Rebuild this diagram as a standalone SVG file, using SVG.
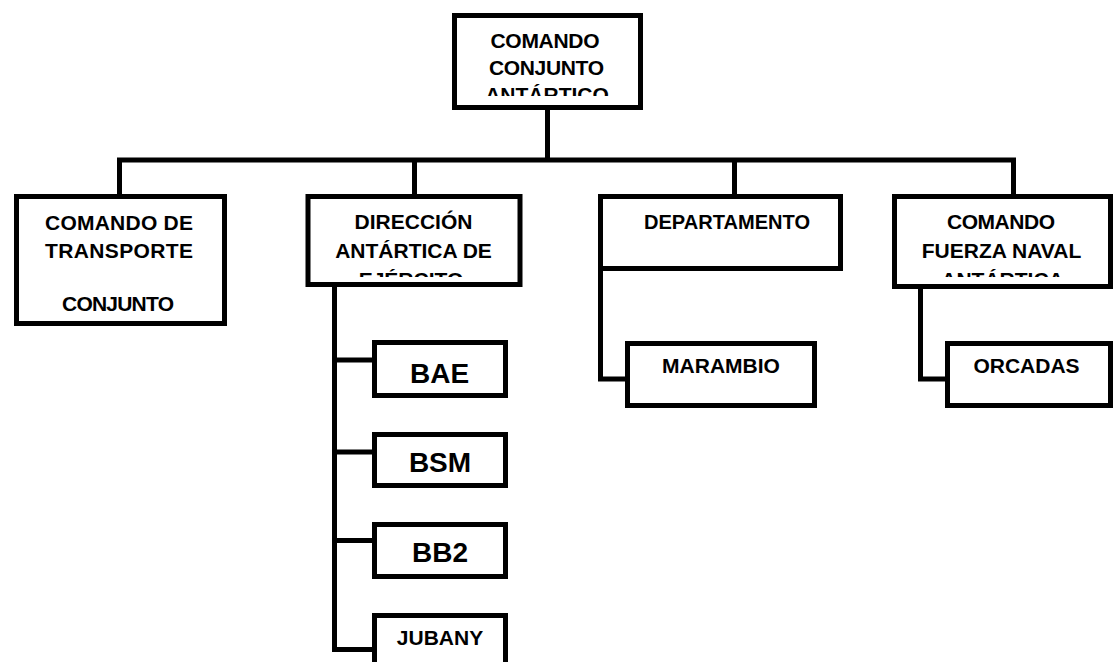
<svg xmlns="http://www.w3.org/2000/svg" width="1114" height="662" viewBox="0 0 1114 662">
<style>
.box{fill:#fff;stroke:#000;stroke-width:5}
.t{font-family:"Liberation Sans",Arial,sans-serif;font-weight:bold;font-size:21px;fill:#000;text-anchor:middle}
.big{font-size:28px}
.c{fill:none;stroke:#000;stroke-width:5;stroke-linecap:square}
</style>
<defs>
<clipPath id="clipTop"><rect x="455" y="16" width="185" height="80"/></clipPath>
<clipPath id="clipDir"><rect x="309" y="197" width="210" height="80"/></clipPath>
<clipPath id="clipNav"><rect x="895" y="197" width="214" height="80"/></clipPath>
</defs>
<rect width="1114" height="662" fill="#fff"/>
<g id="connectors">
<path class="c" d="M547.5 110 V160 M119.5 160 H1013.5 M119.5 160 V194 M414.5 160 V194 M734.5 160 V194 M1013.5 160 V194"/>
<path class="c" d="M334.5 287 V649.5 M334.5 360 H373 M334.5 452 H373 M334.5 540.5 H373 M334.5 649.5 H373"/>
<path class="c" d="M600.5 269 V379 H626"/>
<path class="c" d="M920.5 287 V379 H946"/>
</g>
<g id="n-top">
<rect class="box" x="454.5" y="15.5" width="186" height="92"/>
<text class="t" x="545" y="48" textLength="109">COMANDO</text>
<text class="t" x="546.5" y="75" textLength="115">CONJUNTO</text>
<text class="t" x="547" y="102" clip-path="url(#clipTop)">ANTÁRTICO</text>
</g>
<g id="n-transporte">
<rect class="box" x="16.5" y="196.5" width="208" height="127"/>
<text class="t" x="119" y="230" textLength="148">COMANDO DE</text>
<text class="t" x="119" y="258" textLength="148">TRANSPORTE</text>
<text class="t" x="118" y="311" textLength="112">CONJUNTO</text>
</g>
<g id="n-direccion">
<rect class="box" x="308" y="196.5" width="212" height="88"/>
<text class="t" x="413.5" y="229">DIRECCIÓN</text>
<text class="t" x="413.5" y="258">ANTÁRTICA DE</text>
<text class="t" x="411" y="287" clip-path="url(#clipDir)">EJÉRCITO</text>
</g>
<g id="n-departamento">
<rect class="box" x="600.5" y="196.5" width="240" height="72"/>
<text class="t" x="727" y="229" textLength="166" lengthAdjust="spacingAndGlyphs">DEPARTAMENTO</text>
</g>
<g id="n-naval">
<rect class="box" x="894.5" y="196.5" width="216" height="90"/>
<text class="t" x="1001" y="229" textLength="108">COMANDO</text>
<text class="t" x="1001.5" y="258">FUERZA NAVAL</text>
<text class="t" x="1002.5" y="287" clip-path="url(#clipNav)">ANTÁRTICA</text>
</g>
<g id="n-marambio">
<rect class="box" x="627.5" y="343.5" width="187" height="62"/>
<text class="t" x="721" y="373">MARAMBIO</text>
</g>
<g id="n-orcadas">
<rect class="box" x="947.5" y="343.5" width="163" height="62"/>
<text class="t" x="1026.5" y="373">ORCADAS</text>
</g>
<g id="n-bae">
<rect class="box" x="374.5" y="342.5" width="131" height="53"/>
<text class="t big" x="439.5" y="383">BAE</text>
</g>
<g id="n-bsm">
<rect class="box" x="374.5" y="434.5" width="131" height="51"/>
<text class="t big" x="440" y="472">BSM</text>
</g>
<g id="n-bb2">
<rect class="box" x="374.5" y="524.5" width="131" height="52"/>
<text class="t big" x="440" y="562">BB2</text>
</g>
<g id="n-jubany">
<rect class="box" x="374.5" y="615.5" width="131" height="60"/>
<text class="t" x="440" y="645">JUBANY</text>
</g>
</svg>
